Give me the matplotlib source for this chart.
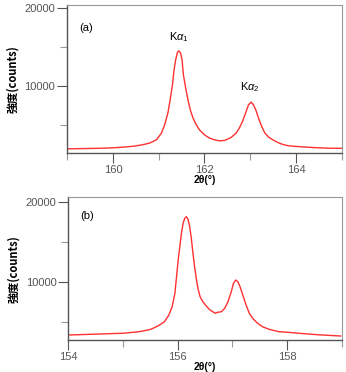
import numpy as np
import matplotlib.pyplot as plt
from matplotlib.ticker import MultipleLocator

plt.rcParams['font.family'] = ['Liberation Sans', 'Noto Sans CJK JP', 'DejaVu Sans']
plt.rcParams['mathtext.fontset'] = 'custom'
plt.rcParams['mathtext.rm'] = 'Liberation Sans'
plt.rcParams['mathtext.it'] = 'Liberation Sans:italic'

# (a) scan
theta_a = [159.0, 159.28, 159.72, 160.0, 160.26, 160.48, 160.65, 160.80, 160.95, 161.06,
           161.13, 161.20, 161.25, 161.30, 161.33, 161.37, 161.41, 161.44, 161.48, 161.51,
           161.54, 161.59, 161.64, 161.69, 161.75, 161.82, 161.89, 162.0, 162.11, 162.22,
           162.33, 162.44, 162.58, 162.69, 162.76, 162.83, 162.91, 162.96, 163.02, 163.07,
           163.12, 163.18, 163.25, 163.32, 163.41, 163.52, 163.63, 163.74, 163.85, 164.07,
           164.28, 164.5, 164.72, 165.0]
counts_a = [1920, 1950, 1990, 2050, 2150, 2280, 2450, 2654, 3077, 3936,
            5000, 6500, 8205, 10128, 11833, 13333, 14320, 14487, 14192, 13333,
            11410, 9705, 8205, 6923, 5859, 5000, 4359, 3718, 3295, 3077,
            2950, 3000, 3372, 3936, 4577, 5423, 6705, 7564, 7910, 7564,
            6923, 5859, 4782, 3936, 3372, 2987, 2654, 2436, 2300, 2200,
            2120, 2050, 2000, 1990]

# (b) scan
theta_b = [154.0, 154.58, 155.02, 155.31, 155.49, 155.58, 155.67, 155.76, 155.84, 155.90,
           155.95, 155.98, 156.01, 156.04, 156.07, 156.10, 156.13, 156.16, 156.19, 156.22,
           156.25, 156.28, 156.31, 156.34, 156.37, 156.41, 156.46, 156.52, 156.58, 156.64,
           156.69, 156.73, 156.80, 156.86, 156.92, 156.98, 157.02, 157.06, 157.10, 157.14,
           157.19, 157.25, 157.31, 157.37, 157.46, 157.55, 157.67, 157.85, 158.04, 158.22,
           158.58, 158.98]
counts_b = [3375, 3500, 3600, 3800, 4050, 4300, 4625, 5038, 5875, 6913,
            8588, 10663, 12750, 14413, 16088, 17338, 17963, 18163, 17838, 16913,
            15463, 13588, 11913, 10463, 9213, 8163, 7538, 7038, 6560, 6288,
            6088, 6213, 6288, 6713, 7538, 8788, 9838, 10250, 10038, 9413,
            8375, 7125, 6088, 5463, 4838, 4413, 4088, 3790, 3700, 3590,
            3400, 3250]

fig = plt.figure(figsize=(3.46, 3.72), dpi=100)
ax1 = fig.add_axes([0.194, 0.589, 0.794, 0.398])
ax2 = fig.add_axes([0.197, 0.086, 0.791, 0.384])


def style(ax, xlim, ylim, xmajor):
    ax.set_xlim(*xlim)
    ax.set_ylim(*ylim)
    ax.xaxis.set_major_locator(MultipleLocator(xmajor))
    ax.xaxis.set_minor_locator(MultipleLocator(xmajor / 2))
    ax.yaxis.set_major_locator(MultipleLocator(10000))
    ax.yaxis.set_minor_locator(MultipleLocator(5000))
    ax.tick_params(which='major', direction='out', length=7, width=0.8, color='#555555',
                   labelsize=8, labelcolor='#555555', pad=1.5)
    ax.tick_params(which='minor', direction='out', length=5, width=0.8, color='#999999')
    ax.tick_params(axis='both', which='both', top=False, right=False)
    for s in ['left', 'bottom']:
        ax.spines[s].set_color('#555555')
        ax.spines[s].set_linewidth(1.0)
    for s in ['top', 'right']:
        ax.spines[s].set_color('#999999')
        ax.spines[s].set_linewidth(0.8)
    ax.set_xlabel('2θ(°)', fontsize=7.5, fontweight='bold', labelpad=0)
    ax.set_ylabel('強度(counts)', fontsize=8, fontweight='bold',
                  family=['Noto Sans CJK JP', 'Liberation Sans'], labelpad=4)


ax1.plot(theta_a, counts_a, color='#ff3030', lw=1.0)
style(ax1, (159, 165), (1400, 20400), 2)
ax1.text(0.045, 0.88, '(a)', transform=ax1.transAxes, fontsize=8, va='top')
ax1.text(161.45, 15400, r'K$\alpha_1$', fontsize=8, ha='center', va='bottom')
ax1.text(163.0, 8900, r'K$\alpha_2$', fontsize=8, ha='center', va='bottom')

ax2.plot(theta_b, counts_b, color='#ff3030', lw=1.0)
style(ax2, (154, 159), (2750, 20600), 2)
ax2.text(0.045, 0.9, '(b)', transform=ax2.transAxes, fontsize=8, va='top')
ax2.get_xticklabels()[0].set_ha('left')

fig.savefig('out.png', dpi=100)
